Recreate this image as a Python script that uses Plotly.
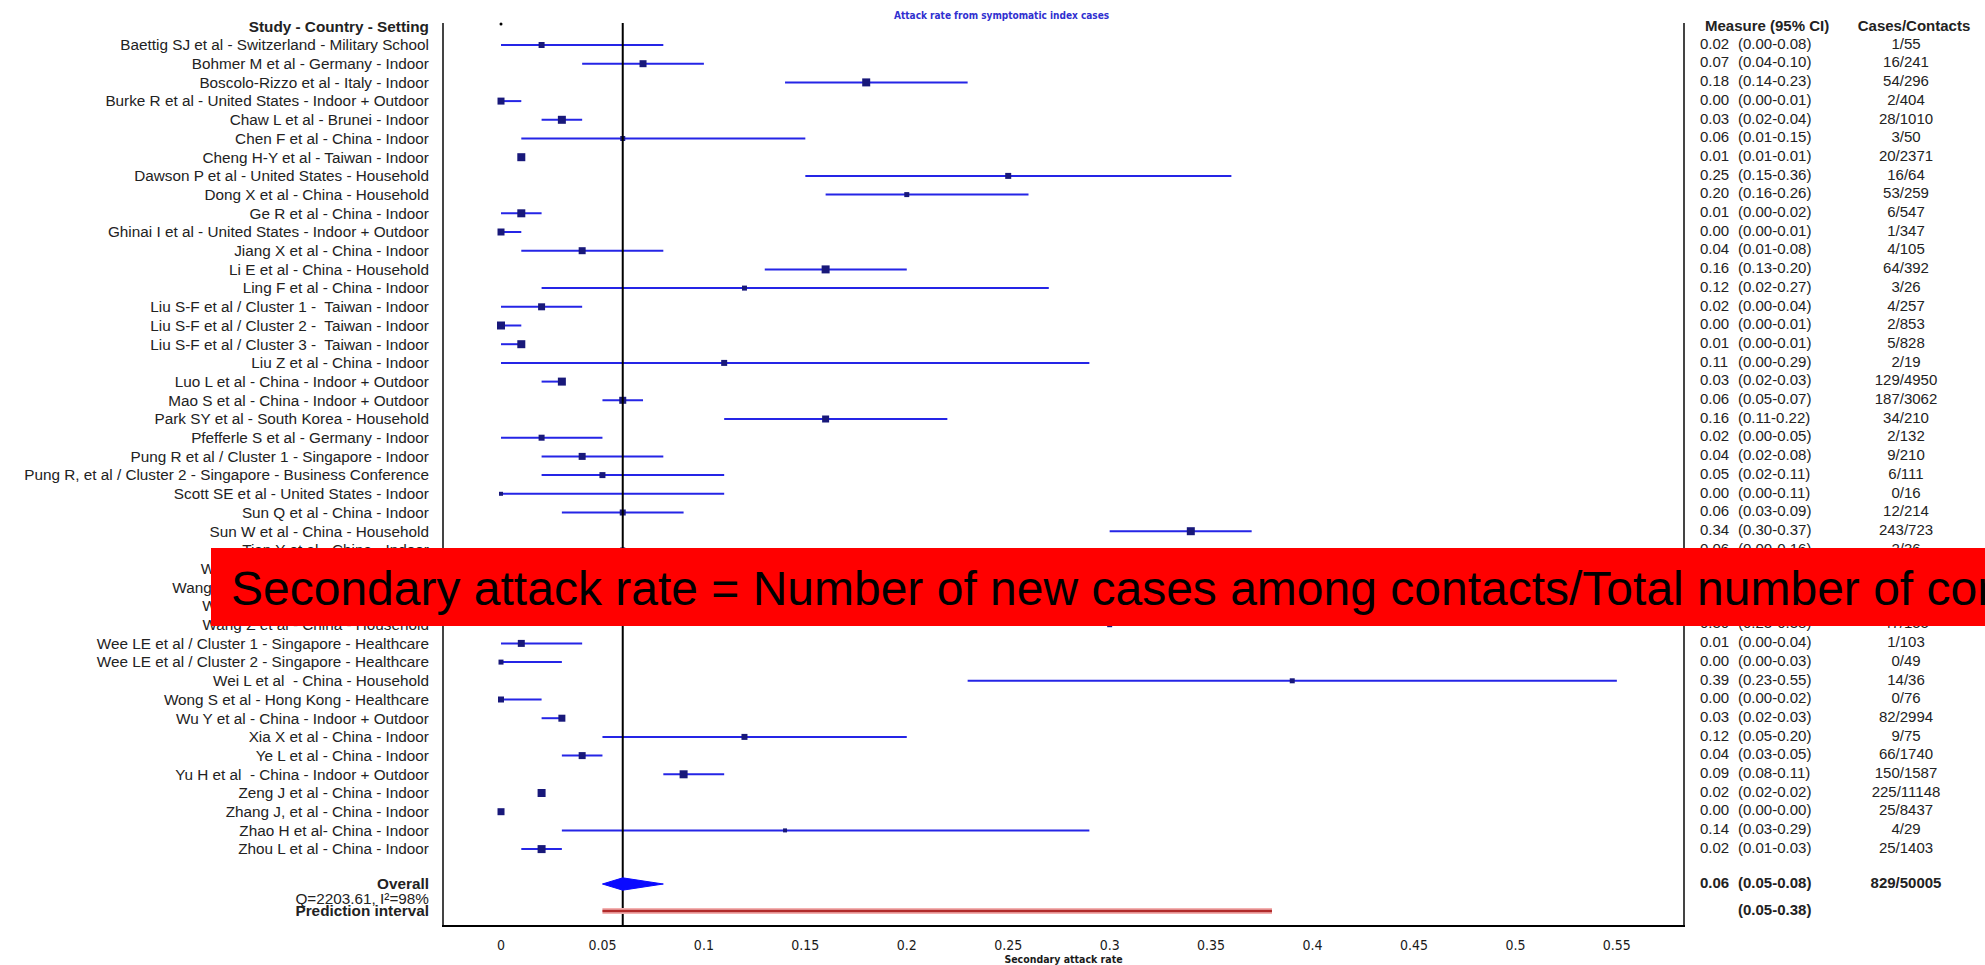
import plotly.graph_objects as go

# ---------------------------------------------------------------- data
studies = [
    "Baettig SJ et al - Switzerland - Military School",
    "Bohmer M et al - Germany - Indoor",
    "Boscolo-Rizzo et al - Italy - Indoor",
    "Burke R et al - United States - Indoor + Outdoor",
    "Chaw L et al - Brunei - Indoor",
    "Chen F et al - China - Indoor",
    "Cheng H-Y et al - Taiwan - Indoor",
    "Dawson P et al - United States - Household",
    "Dong X et al - China - Household",
    "Ge R et al - China - Indoor",
    "Ghinai I et al - United States - Indoor + Outdoor",
    "Jiang X et al - China - Indoor",
    "Li E et al - China - Household",
    "Ling F et al - China - Indoor",
    "Liu S-F et al / Cluster 1 -  Taiwan - Indoor",
    "Liu S-F et al / Cluster 2 -  Taiwan - Indoor",
    "Liu S-F et al / Cluster 3 -  Taiwan - Indoor",
    "Liu Z et al - China - Indoor",
    "Luo L et al - China - Indoor + Outdoor",
    "Mao S et al - China - Indoor + Outdoor",
    "Park SY et al - South Korea - Household",
    "Pfefferle S et al - Germany - Indoor",
    "Pung R et al / Cluster 1 - Singapore - Indoor",
    "Pung R, et al / Cluster 2 - Singapore - Business Conference",
    "Scott SE et al - United States - Indoor",
    "Sun Q et al - China - Indoor",
    "Sun W et al - China - Household",
    "Tian Y et al - China - Indoor",
    "Wang D et al - China - Household",
    "Wang X et al - China - Indoor + Travel",
    "Wang Y et al - China - Household",
    "Wang Z et al - China - Household",
    "Wee LE et al / Cluster 1 - Singapore - Healthcare",
    "Wee LE et al / Cluster 2 - Singapore - Healthcare",
    "Wei L et al  - China - Household",
    "Wong S et al - Hong Kong - Healthcare",
    "Wu Y et al - China - Indoor + Outdoor",
    "Xia X et al - China - Indoor",
    "Ye L et al - China - Indoor",
    "Yu H et al  - China - Indoor + Outdoor",
    "Zeng J et al - China - Indoor",
    "Zhang J, et al - China - Indoor",
    "Zhao H et al- China - Indoor",
    "Zhou L et al - China - Indoor",
]

estimate = [0.02, 0.07, 0.18, 0.00, 0.03, 0.06, 0.01, 0.25, 0.20, 0.01,
            0.00, 0.04, 0.16, 0.12, 0.02, 0.00, 0.01, 0.11, 0.03, 0.06,
            0.16, 0.02, 0.04, 0.05, 0.00, 0.06, 0.34, 0.06, 0.04, 0.10,
            0.23, 0.30, 0.01, 0.00, 0.39, 0.00, 0.03, 0.12, 0.04, 0.09,
            0.02, 0.00, 0.14, 0.02]

ci_low = [0.00, 0.04, 0.14, 0.00, 0.02, 0.01, 0.01, 0.15, 0.16, 0.00,
          0.00, 0.01, 0.13, 0.02, 0.00, 0.00, 0.00, 0.00, 0.02, 0.05,
          0.11, 0.00, 0.02, 0.02, 0.00, 0.03, 0.30, 0.00, 0.02, 0.08,
          0.19, 0.23, 0.00, 0.00, 0.23, 0.00, 0.02, 0.05, 0.03, 0.08,
          0.02, 0.00, 0.03, 0.01]

ci_high = [0.08, 0.10, 0.23, 0.01, 0.04, 0.15, 0.01, 0.36, 0.26, 0.02,
           0.01, 0.08, 0.20, 0.27, 0.04, 0.01, 0.01, 0.29, 0.03, 0.07,
           0.22, 0.05, 0.08, 0.11, 0.11, 0.09, 0.37, 0.16, 0.07, 0.13,
           0.28, 0.38, 0.04, 0.03, 0.55, 0.02, 0.03, 0.20, 0.05, 0.11,
           0.02, 0.00, 0.29, 0.03]

cases_contacts = ["1/55", "16/241", "54/296", "2/404", "28/1010", "3/50",
                  "20/2371", "16/64", "53/259", "6/547", "1/347", "4/105",
                  "64/392", "3/26", "4/257", "2/853", "5/828", "2/19",
                  "129/4950", "187/3062", "34/210", "2/132", "9/210",
                  "6/111", "0/16", "12/214", "243/723", "2/36", "10/259",
                  "41/402", "77/335", "47/155", "1/103", "0/49", "14/36",
                  "0/76", "82/2994", "9/75", "66/1740", "150/1587",
                  "225/11148", "25/8437", "4/29", "25/1403"]

overall_label = "Overall"
heterogeneity_label = "Q=2203.61, I\u00b2=98%"
prediction_label = "Prediction interval"
overall_estimate = 0.06
overall_low = 0.05
overall_high = 0.08
overall_cases = "829/50005"
prediction_low = 0.05
prediction_high = 0.38

x_tickvals = [0, 0.05, 0.1, 0.15, 0.2, 0.25, 0.3, 0.35, 0.4, 0.45, 0.5, 0.55]
x_ticktext = ["0", "0.05", "0.1", "0.15", "0.2", "0.25", "0.3", "0.35",
              "0.4", "0.45", "0.5", "0.55"]

chart_title = "Attack rate from symptomatic index cases"
x_title = "Secondary attack rate"
left_header = "Study - Country - Setting"
measure_header = "Measure (95% CI)"
cases_header = "Cases/Contacts"
banner_text = ("Secondary attack rate = Number of new cases among contacts/"
               "Total number of contacts")

# ---------------------------------------------------------------- style
# square size per study (study weight)
marker_px = [6, 7, 8, 7, 8, 5, 8, 6, 5, 8, 7, 7, 8, 5, 7, 8, 8, 6, 8, 7,
             7, 6, 7, 6, 4, 6, 8, 5, 7, 7, 7, 5, 7, 5, 5, 6, 7, 6, 7, 8,
             8, 7, 4, 8]

W, H = 1985, 965
PLOT_L, PLOT_R, PLOT_T, PLOT_B = 444, 1683, 23, 925
ROW0_PX, ROW_PX = 45, 18.7

SANS = "Liberation Sans, Arial, sans-serif"
NARROW = "Liberation Sans Narrow, Arial Narrow, DejaVu Sans Condensed, sans-serif"
TEXT_COLOR = "#222222"
CI_BLUE = "#2525e6"
SQUARE_BLUE = "#18187a"


def row_of(py):
    return (py - ROW0_PX) / ROW_PX


def paper_x(px):
    return (px - PLOT_L) / (W - PLOT_L)


def paper_y(py):
    return (PLOT_B - py) / (PLOT_B - PLOT_T)


n = len(studies)
rows = list(range(n))
y_header = row_of(27)
y_overall = row_of(884)
y_het = row_of(899)
y_pred = row_of(911)
y_top, y_bottom = row_of(PLOT_T), row_of(PLOT_B)

x_lo, x_hi = -0.0281, 0.5826

fig = go.Figure()

# confidence interval whiskers
ci_x, ci_y = [], []
for lo, hi, r in zip(ci_low, ci_high, rows):
    ci_x += [lo, hi, None]
    ci_y += [r, r, None]
fig.add_trace(go.Scatter(x=ci_x, y=ci_y, mode="lines",
                         line=dict(color=CI_BLUE, width=2),
                         hoverinfo="skip", showlegend=False))

# point estimates
fig.add_trace(go.Scatter(x=estimate, y=rows, mode="markers",
                         marker=dict(symbol="square", size=marker_px,
                                     color=SQUARE_BLUE, opacity=1,
                                     line=dict(width=0)),
                         text=studies, showlegend=False))

# pooled estimate reference line
fig.add_trace(go.Scatter(x=[overall_estimate, overall_estimate],
                         y=[y_top, y_bottom], mode="lines",
                         line=dict(color="black", width=2),
                         hoverinfo="skip", showlegend=False))

# pooled diamond
half = 0.33
fig.add_trace(go.Scatter(
    x=[overall_low, overall_estimate, overall_high, overall_estimate, overall_low],
    y=[y_overall, y_overall - half, y_overall, y_overall + half, y_overall],
    mode="lines", fill="toself", fillcolor="#0a0aff",
    line=dict(color="#0a0aff", width=1), hoverinfo="skip", showlegend=False))

# prediction interval
fig.add_trace(go.Scatter(x=[prediction_low, prediction_high], y=[y_pred, y_pred],
                         mode="lines", line=dict(color="#f3b0b0", width=6),
                         hoverinfo="skip", showlegend=False))
fig.add_trace(go.Scatter(x=[prediction_low, prediction_high], y=[y_pred, y_pred],
                         mode="lines", line=dict(color="#b02a2a", width=2.5),
                         hoverinfo="skip", showlegend=False))

# small dot at the origin of the scale
fig.add_trace(go.Scatter(x=[0], y=[y_top + 0.05], mode="markers",
                         marker=dict(color="black", size=3),
                         cliponaxis=False, hoverinfo="skip", showlegend=False))

# right-hand columns (on a secondary x axis measured in pixels)
MEAS_X, CI_X, CASES_X = 1700 - PLOT_R, 1738 - PLOT_R, 1906 - PLOT_R
col_font = dict(family=SANS, size=15, color=TEXT_COLOR)
fig.add_trace(go.Scatter(
    x=[MEAS_X] * n + [MEAS_X], y=rows + [y_overall],
    text=[f"{v:.2f}" for v in estimate] + [f"<b>{overall_estimate:.2f}</b>"],
    mode="text", textposition="middle right", textfont=col_font,
    xaxis="x2", yaxis="y", cliponaxis=False, hoverinfo="skip", showlegend=False))
fig.add_trace(go.Scatter(
    x=[CI_X] * n + [CI_X, CI_X], y=rows + [y_overall, y_pred],
    text=[f"({lo:.2f}-{hi:.2f})" for lo, hi in zip(ci_low, ci_high)]
    + [f"<b>({overall_low:.2f}-{overall_high:.2f})</b>",
       f"<b>({prediction_low:.2f}-{prediction_high:.2f})</b>"],
    mode="text", textposition="middle right", textfont=col_font,
    xaxis="x2", yaxis="y", cliponaxis=False, hoverinfo="skip", showlegend=False))
fig.add_trace(go.Scatter(
    x=[CASES_X] * n + [CASES_X], y=rows + [y_overall],
    text=cases_contacts + [f"<b>{overall_cases}</b>"],
    mode="text", textposition="middle center", textfont=col_font,
    xaxis="x2", yaxis="y", cliponaxis=False, hoverinfo="skip", showlegend=False))
fig.add_trace(go.Scatter(
    x=[1705 - PLOT_R, 1914 - PLOT_R], y=[y_header, y_header],
    text=[f"<b>{measure_header}</b>", f"<b>{cases_header}</b>"],
    mode="text", textposition=["middle right", "middle center"],
    textfont=col_font, xaxis="x2", yaxis="y", cliponaxis=False,
    hoverinfo="skip", showlegend=False))

# left-hand labels via the y axis
tickvals = [y_header] + rows + [y_overall, y_het, y_pred]
ticktext = ([f"<b>{left_header}</b>"] + studies +
            [f"<b>{overall_label}</b>", heterogeneity_label,
             f"<b>{prediction_label}</b>"])

main_right = paper_x(PLOT_R)

fig.update_layout(
    width=W, height=H, autosize=False,
    margin=dict(l=PLOT_L, r=0, t=PLOT_T, b=H - PLOT_B),
    paper_bgcolor="white", plot_bgcolor="white",
    template="none",
    xaxis=dict(domain=[0, main_right], range=[x_lo, x_hi],
               tickvals=x_tickvals, ticktext=x_ticktext,
               tickfont=dict(family=NARROW, size=14, color="#1a1a1a"),
               ticks="", ticklabelstandoff=6,
               showline=True, linecolor="black", linewidth=2, mirror=False,
               showgrid=False, zeroline=False,
               title=dict(text=f"<b>{x_title}</b>", standoff=11,
                          font=dict(family=NARROW, size=10.5, color="#1a1a1a"))),
    xaxis2=dict(domain=[main_right, 1], range=[0, W - PLOT_R], anchor="y",
                visible=False, showgrid=False, zeroline=False),
    yaxis=dict(range=[y_bottom, y_top], tickvals=tickvals, ticktext=ticktext,
               tickfont=dict(family=SANS, size=15.3, color=TEXT_COLOR),
               ticks="", ticklabelstandoff=10,
               showline=True, linecolor="#444444", linewidth=2, mirror=True,
               showgrid=False, zeroline=False),
    showlegend=False,
)

fig.add_annotation(text=f"<b>{chart_title}</b>", xref="paper", yref="paper",
                   x=paper_x(1001), y=paper_y(15), xanchor="center",
                   yanchor="middle", showarrow=False,
                   font=dict(family=NARROW, size=10, color="#3030d0"))

# red definition banner across the middle of the chart
fig.add_shape(type="rect", xref="paper", yref="paper",
              x0=paper_x(211), x1=1.02, y0=paper_y(626), y1=paper_y(548),
              fillcolor="#ff0000", line=dict(width=0), layer="above")
fig.add_annotation(text=banner_text, xref="paper", yref="paper",
                   x=paper_x(229), y=paper_y(588), xanchor="left",
                   yanchor="middle", showarrow=False,
                   font=dict(family=SANS, size=48, color="black"))

fig.write_html("out.html")
